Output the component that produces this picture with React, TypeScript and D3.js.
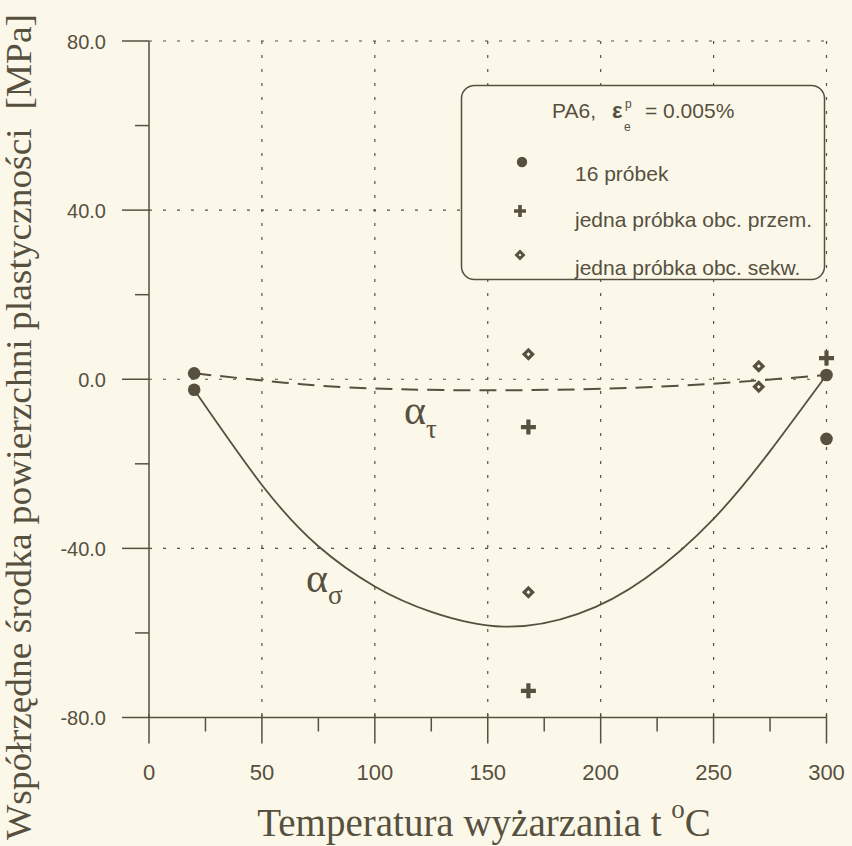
import React, { useEffect, useRef } from 'react';
import * as d3 from 'd3';

// axis ticks
const xTicks = [0, 50, 100, 150, 200, 250, 300];
const xMinorTicks = [25, 75, 125, 175, 225, 275];
const yTicks = [-80, -40, 0, 40, 80];
const yMinorTicks = [-60, -20, 20, 60];
const xGrid = [50, 100, 150, 200, 250, 300];
const yGrid = [-40, 0, 40, 80];

// 16 próbek
const circleT = [20, 20, 300, 300];
const circleV = [1.4, -2.5, 1.0, -14.1];
// jedna próbka obc. przem.
const plusT = [168, 168, 300];
const plusV = [-11.3, -73.7, 5.0];
// jedna próbka obc. sekw.
const diamondT = [168, 168, 270, 270];
const diamondV = [5.9, -50.4, 3.1, -1.8];

// alpha sigma (solid)
const sigmaT = [20, 50, 75, 100, 125, 157, 190, 220, 250, 275, 300];
const sigmaV = [-2.5, -25, -39.5, -49, -55, -58.5, -55.5, -47, -33, -17, 1.0];
// alpha tau (dashed)
const tauT = [20, 60, 100, 160, 220, 262, 300];
const tauV = [1.4, -0.8, -2.2, -2.6, -1.9, -0.6, 1.0];

const INK = '#57503f';
const BG = '#fbf8ea';

const App: React.FC = () => {
  const ref = useRef<SVGSVGElement | null>(null);

  useEffect(() => {
    if (!ref.current) return;
    const svg = d3.select(ref.current);
    svg.selectAll('*').remove();

    const x = d3.scaleLinear().domain([0, 300]).range([149, 826.5]);
    const y = d3.scaleLinear().domain([-80, 80]).range([717.5, 41]);

    svg.append('rect').attr('width', 852).attr('height', 846).attr('fill', BG);

    // dotted grid
    svg.append('g').selectAll('line').data(xGrid).enter().append('line')
      .attr('x1', d => x(d)).attr('x2', d => x(d))
      .attr('y1', y(80)).attr('y2', y(-80))
      .attr('stroke', INK).attr('stroke-width', 1.2).attr('stroke-dasharray', '3,11');
    svg.append('g').selectAll('line').data(yGrid).enter().append('line')
      .attr('x1', x(0)).attr('x2', x(300))
      .attr('y1', d => y(d)).attr('y2', d => y(d))
      .attr('stroke', INK).attr('stroke-width', 1.2).attr('stroke-dasharray', '3,11');

    // axes
    svg.append('line').attr('x1', x(0)).attr('x2', x(0)).attr('y1', y(80)).attr('y2', y(-80))
      .attr('stroke', INK).attr('stroke-width', 1.5);
    svg.append('line').attr('x1', x(0)).attr('x2', x(300)).attr('y1', y(-80)).attr('y2', y(-80))
      .attr('stroke', INK).attr('stroke-width', 1.5);

    svg.append('g').selectAll('line').data(yTicks).enter().append('line')
      .attr('x1', x(0) - 27).attr('x2', x(0)).attr('y1', d => y(d)).attr('y2', d => y(d))
      .attr('stroke', INK).attr('stroke-width', 1.5);
    svg.append('g').selectAll('line').data(yMinorTicks).enter().append('line')
      .attr('x1', x(0) - 14).attr('x2', x(0)).attr('y1', d => y(d)).attr('y2', d => y(d))
      .attr('stroke', INK).attr('stroke-width', 1.5);
    svg.append('g').selectAll('line').data(xTicks).enter().append('line')
      .attr('x1', d => x(d)).attr('x2', d => x(d)).attr('y1', y(-80) - 3).attr('y2', y(-80) + 26)
      .attr('stroke', INK).attr('stroke-width', 1.5);
    svg.append('g').selectAll('line').data(xMinorTicks).enter().append('line')
      .attr('x1', d => x(d)).attr('x2', d => x(d)).attr('y1', y(-80)).attr('y2', y(-80) + 14)
      .attr('stroke', INK).attr('stroke-width', 1.5);

    // tick labels (plain hyphen for negatives, as in the original)
    svg.append('g').selectAll('text').data(yTicks).enter().append('text')
      .attr('x', 106).attr('y', d => y(d) + 7.5)
      .attr('text-anchor', 'end')
      .style('font-family', '"Liberation Sans", Arial, sans-serif').style('font-size', '20px')
      .attr('fill', INK)
      .text(d => d.toFixed(1));
    svg.append('g').selectAll('text').data(xTicks).enter().append('text')
      .attr('x', d => x(d)).attr('y', 780)
      .attr('text-anchor', 'middle')
      .style('font-family', '"Liberation Sans", Arial, sans-serif').style('font-size', '22px')
      .attr('fill', INK)
      .text(d => String(d));

    // curves
    const line = d3.line<[number, number]>()
      .x(d => x(d[0])).y(d => y(d[1]))
      .curve(d3.curveNatural);
    svg.append('path')
      .attr('d', line(sigmaT.map((t, i) => [t, sigmaV[i]] as [number, number])))
      .attr('fill', 'none').attr('stroke', INK).attr('stroke-width', 1.8);
    svg.append('path')
      .attr('d', line(tauT.map((t, i) => [t, tauV[i]] as [number, number])))
      .attr('fill', 'none').attr('stroke', INK).attr('stroke-width', 2)
      .attr('stroke-dasharray', '17,9');

    // markers
    const drawCircle = (g: any, cx: number, cy: number, r: number) =>
      g.append('circle').attr('cx', cx).attr('cy', cy).attr('r', r).attr('fill', INK);
    const drawPlus = (g: any, cx: number, cy: number, s: number, w: number) =>
      g.append('path')
        .attr('d', `M${cx - s / 2},${cy}H${cx + s / 2}M${cx},${cy - s / 2}V${cy + s / 2}`)
        .attr('stroke', INK).attr('stroke-width', w).attr('fill', 'none');
    const drawDiamond = (g: any, cx: number, cy: number, s: number, w: number) =>
      g.append('rect')
        .attr('x', -s / 2).attr('y', -s / 2).attr('width', s).attr('height', s)
        .attr('transform', `translate(${cx},${cy}) rotate(45)`)
        .attr('fill', BG).attr('stroke', INK).attr('stroke-width', w);

    const marks = svg.append('g');
    circleT.forEach((t, i) => drawCircle(marks, x(t), y(circleV[i]), 6.3));
    plusT.forEach((t, i) => drawPlus(marks, x(t), y(plusV[i]), 15, 4.2));
    diamondT.forEach((t, i) => drawDiamond(marks, x(t), y(diamondV[i]), 6, 3.2));

    // curve labels
    const serif = '"Liberation Serif", "Times New Roman", serif';
    const sig = svg.append('text').attr('x', 306).attr('y', 592)
      .style('font-family', serif).style('font-size', '42px').attr('fill', INK);
    sig.append('tspan').text('α');
    sig.append('tspan').attr('dy', 12).style('font-size', '27px').text('σ');
    const tau = svg.append('text').attr('x', 404).attr('y', 424)
      .style('font-family', serif).style('font-size', '42px').attr('fill', INK);
    tau.append('tspan').text('α');
    tau.append('tspan').attr('dy', 14).style('font-size', '27px').text('τ');

    // legend
    const sans = '"Liberation Sans", Arial, sans-serif';
    const lg = svg.append('g');
    lg.append('rect').attr('x', 461.5).attr('y', 85.5).attr('width', 363).attr('height', 194)
      .attr('rx', 13).attr('fill', BG).attr('stroke', INK).attr('stroke-width', 1.5);
    lg.append('text').attr('x', 552).attr('y', 118).style('font-family', sans).style('font-size', '21px')
      .attr('fill', INK).text('PA6,');
    lg.append('text').attr('x', 612).attr('y', 118).style('font-family', sans).style('font-size', '22px')
      .style('font-weight', 'bold').attr('fill', INK).text('ε');
    lg.append('text').attr('x', 625).attr('y', 108).style('font-family', sans).style('font-size', '12px')
      .attr('fill', INK).text('p');
    lg.append('text').attr('x', 624).attr('y', 131).style('font-family', sans).style('font-size', '12px')
      .attr('fill', INK).text('e');
    lg.append('text').attr('x', 645).attr('y', 118).style('font-family', sans).style('font-size', '21px')
      .attr('fill', INK).text('= 0.005%');

    drawCircle(lg, 522, 162, 5.2);
    drawPlus(lg, 520, 211, 12, 3.6);
    drawDiamond(lg, 520, 255, 5, 2.8);
    const legendLabels = ['16 próbek', 'jedna próbka obc. przem.', 'jedna próbka obc. sekw.'];
    const legendY = [181, 227, 275];
    legendLabels.forEach((s, i) => {
      lg.append('text').attr('x', 575).attr('y', legendY[i]).style('font-family', sans)
        .style('font-size', '21px').attr('fill', INK).text(s);
    });

    // axis titles
    const xt = svg.append('text').attr('x', 484).attr('y', 836).attr('text-anchor', 'middle')
      .style('font-family', serif).style('font-size', '39px').attr('fill', INK)
      .style('white-space', 'pre');
    xt.append('tspan').text('Temperatura wyżarzania t ');
    xt.append('tspan').attr('dy', -18).style('font-size', '27px').text('o');
    xt.append('tspan').attr('dy', 18).text('C');

    svg.append('text')
      .attr('transform', 'translate(31,427) rotate(-90)')
      .attr('text-anchor', 'middle')
      .attr('textLength', 826).attr('lengthAdjust', 'spacingAndGlyphs')
      .style('font-family', serif).style('font-size', '36px').attr('fill', INK)
      .style('white-space', 'pre')
      .text('Współrzędne środka powierzchni plastyczności  [MPa]');
  }, []);

  return (
    <svg ref={ref} width={852} height={846}
      style={{ position: 'absolute', left: 0, top: 0, display: 'block' }} />
  );
};

export default App;
